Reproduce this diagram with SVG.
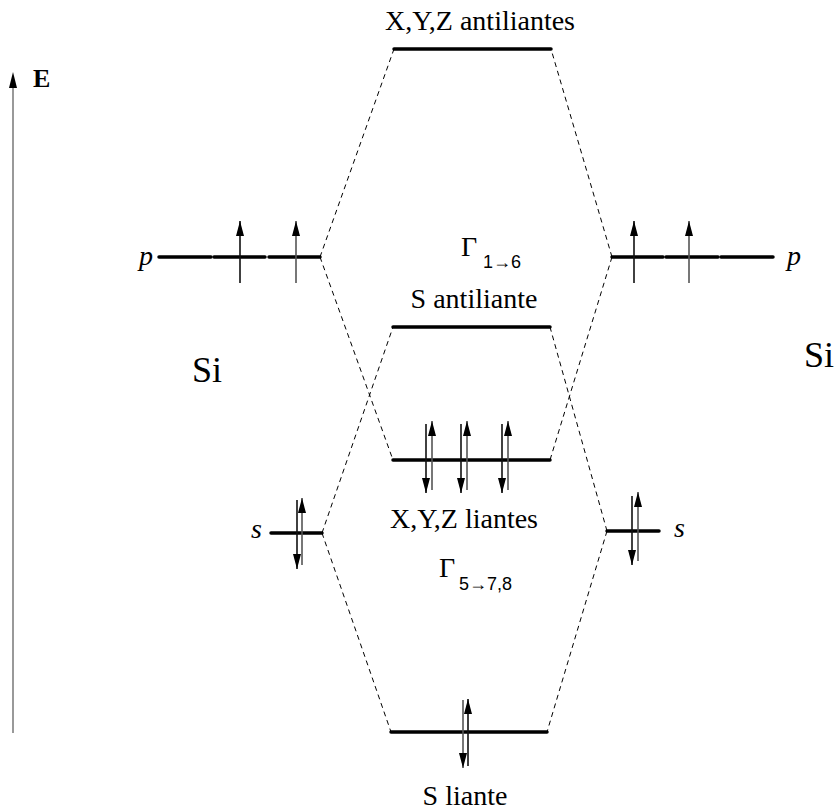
<svg xmlns="http://www.w3.org/2000/svg" width="837" height="812" viewBox="0 0 837 812">
<defs>
<marker id="ah" viewBox="0 0 15 8" refX="15" refY="4" markerWidth="15" markerHeight="8" markerUnits="userSpaceOnUse" orient="auto">
<path d="M15 4 L0 0 L0 8 Z" fill="#000"/>
</marker>
<style>
.lvl{stroke:#000;stroke-width:3.5;fill:none;stroke-linecap:round}
.dash{stroke:#000;stroke-width:1;stroke-dasharray:5 4;fill:none}
.up{stroke:#555;stroke-width:1.6;fill:none}
.dn{stroke:#111;stroke-width:1.6;fill:none}
text{font-family:"Liberation Serif","Times New Roman",serif;font-size:28px;fill:#000}
.it{font-style:italic}
.sub{font-family:"Liberation Sans",Arial,sans-serif;font-size:18px}
.big{font-size:36px}
.bold{font-weight:bold;font-size:26px}
</style>
</defs>
<rect width="837" height="812" fill="#fff"/>

<g id="axis">
<line x1="13" y1="733" x2="13" y2="80" stroke="#555" stroke-width="1.2"/>
<path d="M13 72 L17 88 L9 88 Z" fill="#000"/>
<text class="bold" x="33" y="87">E</text>
</g>

<g id="connectors">
<line class="dash" x1="320" y1="257" x2="394" y2="49"/>
<line class="dash" x1="612" y1="257" x2="551" y2="49"/>
<line class="dash" x1="320" y1="257" x2="393" y2="460"/>
<line class="dash" x1="612" y1="257" x2="550" y2="460"/>
<line class="dash" x1="322" y1="533" x2="393" y2="327"/>
<line class="dash" x1="607" y1="531" x2="550" y2="327"/>
<line class="dash" x1="322" y1="533" x2="391" y2="732"/>
<line class="dash" x1="607" y1="531" x2="547" y2="732"/>
</g>

<g id="xyz-antiliantes">
<line class="lvl" x1="394" y1="49" x2="551" y2="49"/>
<text x="480" y="30" text-anchor="middle">X,Y,Z antiliantes</text>
</g>

<g id="p-left">
<line class="lvl" x1="159" y1="257" x2="211" y2="257"/>
<line class="lvl" x1="214" y1="257" x2="265" y2="257"/>
<line class="lvl" x1="269" y1="257" x2="320" y2="257"/>
<line class="dn" x1="240" y1="283" x2="240" y2="221" marker-end="url(#ah)"/>
<line class="up" x1="296" y1="283" x2="296" y2="221" marker-end="url(#ah)"/>
<text class="it" x="139" y="265">p</text>
</g>

<g id="p-right">
<line class="lvl" x1="612" y1="257" x2="663" y2="257"/>
<line class="lvl" x1="666" y1="257" x2="718" y2="257"/>
<line class="lvl" x1="721" y1="257" x2="773" y2="257"/>
<line class="dn" x1="634" y1="283" x2="634" y2="221" marker-end="url(#ah)"/>
<line class="up" x1="689" y1="283" x2="689" y2="221" marker-end="url(#ah)"/>
<text class="it" x="787" y="265">p</text>
</g>

<g id="gamma16">
<text x="461" y="256">Γ</text>
<text class="sub" x="483" y="268">1→6</text>
</g>

<g id="s-antiliante">
<line class="lvl" x1="393" y1="327" x2="550" y2="327"/>
<text x="474" y="308" text-anchor="middle">S antiliante</text>
</g>

<g id="si-left"><text class="big" x="192" y="382">Si</text></g>
<g id="si-right"><text class="big" x="804" y="367">Si</text></g>

<g id="xyz-liantes">
<line class="lvl" x1="393" y1="460" x2="550" y2="460"/>
<line class="dn" x1="426" y1="424" x2="426" y2="493" marker-end="url(#ah)"/>
<line class="up" x1="432" y1="490" x2="432" y2="421" marker-end="url(#ah)"/>
<line class="dn" x1="461" y1="424" x2="461" y2="493" marker-end="url(#ah)"/>
<line class="up" x1="467" y1="490" x2="467" y2="421" marker-end="url(#ah)"/>
<line class="dn" x1="502" y1="424" x2="502" y2="493" marker-end="url(#ah)"/>
<line class="up" x1="508" y1="490" x2="508" y2="421" marker-end="url(#ah)"/>
<text x="464" y="528" text-anchor="middle">X,Y,Z liantes</text>
</g>

<g id="s-left">
<line class="lvl" x1="271" y1="533" x2="322" y2="533"/>
<line class="dn" x1="297" y1="500" x2="297" y2="569" marker-end="url(#ah)"/>
<line class="up" x1="302" y1="565" x2="302" y2="498" marker-end="url(#ah)"/>
<text class="it" x="251" y="538">s</text>
</g>

<g id="s-right">
<line class="lvl" x1="607" y1="531" x2="659" y2="531"/>
<line class="dn" x1="632" y1="496" x2="632" y2="565" marker-end="url(#ah)"/>
<line class="up" x1="638" y1="561" x2="638" y2="492" marker-end="url(#ah)"/>
<text class="it" x="674" y="537">s</text>
</g>

<g id="gamma578">
<text x="439" y="577">Γ</text>
<text class="sub" x="459" y="590">5→7,8</text>
</g>

<g id="s-liante">
<line class="lvl" x1="391" y1="732" x2="547" y2="732"/>
<line class="up" x1="463" y1="700" x2="463" y2="768" marker-end="url(#ah)"/>
<line class="dn" x1="468" y1="766" x2="468" y2="699" marker-end="url(#ah)"/>
<text x="465" y="805" text-anchor="middle">S liante</text>
</g>
</svg>
